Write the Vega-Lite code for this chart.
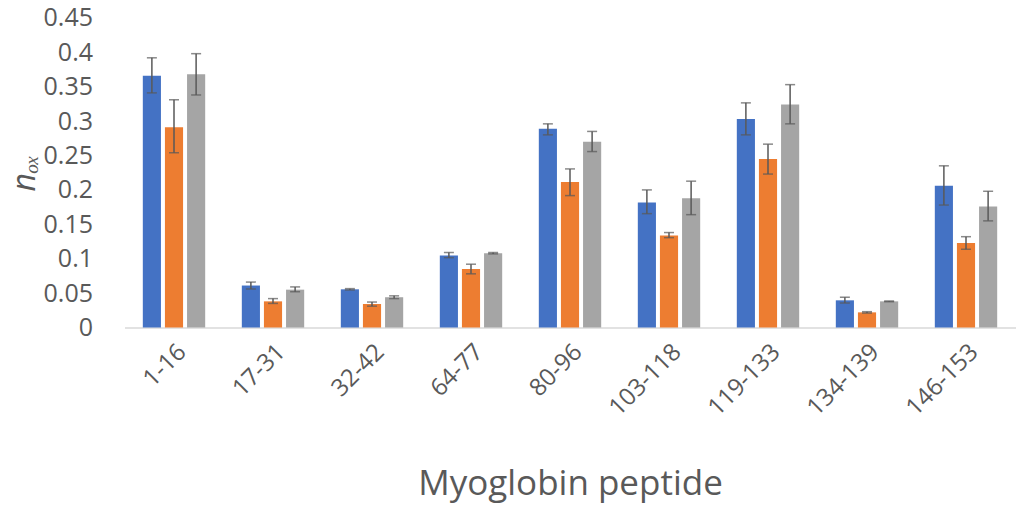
{
  "$schema": "https://vega.github.io/schema/vega-lite/v6.json",
  "width": 891,
  "height": 309.6,
  "autosize": {"type": "none"},
  "padding": {"left": 124.5, "top": 17.9, "right": 6.5, "bottom": 178.5},
  "background": "white",
  "config": {
    "view": {"stroke": null},
    "font": "Open Sans",
    "axisY": {
      "titleFontStyle": "italic",
      "titleFontWeight": "normal",
      "titleFontSize": 32,
      "titleColor": "#595959",
      "titlePadding": 2,
      "labelFontSize": 25,
      "labelColor": "#595959",
      "labelPadding": 32,
      "labelOverlap": false,
      "labelFlush": false,
      "ticks": false,
      "domain": false,
      "grid": false
    }
  },
  "data": {
    "values": [
      {"peptide": "1-16", "s": "A", "v": 0.366, "lo": 0.341, "hi": 0.392},
      {"peptide": "1-16", "s": "B", "v": 0.291, "lo": 0.254, "hi": 0.331},
      {"peptide": "1-16", "s": "C", "v": 0.368, "lo": 0.338, "hi": 0.398},
      {"peptide": "17-31", "s": "A", "v": 0.061, "lo": 0.056, "hi": 0.066},
      {"peptide": "17-31", "s": "B", "v": 0.038, "lo": 0.035, "hi": 0.042},
      {"peptide": "17-31", "s": "C", "v": 0.055, "lo": 0.052, "hi": 0.059},
      {"peptide": "32-42", "s": "A", "v": 0.0555, "lo": 0.0545, "hi": 0.0565},
      {"peptide": "32-42", "s": "B", "v": 0.034, "lo": 0.031, "hi": 0.037},
      {"peptide": "32-42", "s": "C", "v": 0.044, "lo": 0.042, "hi": 0.046},
      {"peptide": "64-77", "s": "A", "v": 0.1045, "lo": 0.1015, "hi": 0.109},
      {"peptide": "64-77", "s": "B", "v": 0.085, "lo": 0.078, "hi": 0.092},
      {"peptide": "64-77", "s": "C", "v": 0.108, "lo": 0.107, "hi": 0.109},
      {"peptide": "80-96", "s": "A", "v": 0.2887, "lo": 0.280, "hi": 0.296},
      {"peptide": "80-96", "s": "B", "v": 0.2116, "lo": 0.1917, "hi": 0.2305},
      {"peptide": "80-96", "s": "C", "v": 0.270, "lo": 0.2557, "hi": 0.285},
      {"peptide": "103-118", "s": "A", "v": 0.1816, "lo": 0.1655, "hi": 0.200},
      {"peptide": "103-118", "s": "B", "v": 0.1336, "lo": 0.1306, "hi": 0.138},
      {"peptide": "103-118", "s": "C", "v": 0.188, "lo": 0.164, "hi": 0.2127},
      {"peptide": "119-133", "s": "A", "v": 0.303, "lo": 0.280, "hi": 0.3265},
      {"peptide": "119-133", "s": "B", "v": 0.245, "lo": 0.223, "hi": 0.2665},
      {"peptide": "119-133", "s": "C", "v": 0.324, "lo": 0.296, "hi": 0.353},
      {"peptide": "134-139", "s": "A", "v": 0.0395, "lo": 0.0356, "hi": 0.044},
      {"peptide": "134-139", "s": "B", "v": 0.022, "lo": 0.021, "hi": 0.023},
      {"peptide": "134-139", "s": "C", "v": 0.038, "lo": 0.0375, "hi": 0.0385},
      {"peptide": "146-153", "s": "A", "v": 0.206, "lo": 0.178, "hi": 0.235},
      {"peptide": "146-153", "s": "B", "v": 0.123, "lo": 0.1137, "hi": 0.132},
      {"peptide": "146-153", "s": "C", "v": 0.176, "lo": 0.155, "hi": 0.198}
    ]
  },
  "encoding": {
    "x": {
      "field": "peptide",
      "type": "nominal",
      "sort": null,
      "scale": {"paddingInner": 0.37, "paddingOuter": 0.185},
      "axis": {
        "title": "Myoglobin peptide",
        "titleFont": "Open Sans",
        "titleFontSize": 35,
        "titleFontWeight": "normal",
        "titleColor": "#595959",
        "titlePadding": 46,
        "labelAngle": -45,
        "labelFontSize": 24,
        "labelColor": "#595959",
        "labelPadding": 12,
        "labelOverlap": false,
        "ticks": false,
        "domainColor": "#D9D9D9",
        "domainWidth": 1.5,
        "grid": false
      }
    },
    "xOffset": {
      "field": "s",
      "type": "nominal",
      "scale": {"paddingInner": 0.18, "paddingOuter": 0}
    }
  },
  "layer": [
    {
      "mark": {"type": "bar"},
      "encoding": {
        "y": {
          "field": "v",
          "type": "quantitative",
          "scale": {"domain": [0, 0.45], "nice": false},
          "axis": {
            "values": [0, 0.05, 0.1, 0.15, 0.2, 0.25, 0.3, 0.35, 0.4, 0.45],
            "format": ".2~f",
            "title": "nₒₓ"
          }
        },
        "color": {
          "field": "s",
          "type": "nominal",
          "scale": {"domain": ["A", "B", "C"], "range": ["#4472C4", "#ED7D31", "#A5A5A5"]},
          "legend": null
        }
      }
    },
    {
      "mark": {"type": "rule", "color": "#595959", "strokeWidth": 1.5},
      "encoding": {
        "y": {
          "field": "lo",
          "type": "quantitative",
          "axis": {
            "values": [0, 0.05, 0.1, 0.15, 0.2, 0.25, 0.3, 0.35, 0.4, 0.45],
            "format": ".2~f",
            "title": "nₒₓ"
          }
        },
        "y2": {"field": "hi"}
      }
    },
    {
      "mark": {"type": "tick", "color": "#595959", "thickness": 1.5, "size": 10},
      "encoding": {
        "y": {
          "field": "lo",
          "type": "quantitative",
          "axis": {
            "values": [0, 0.05, 0.1, 0.15, 0.2, 0.25, 0.3, 0.35, 0.4, 0.45],
            "format": ".2~f",
            "title": "nₒₓ"
          }
        }
      }
    },
    {
      "mark": {"type": "tick", "color": "#595959", "thickness": 1.5, "size": 10},
      "encoding": {
        "y": {
          "field": "hi",
          "type": "quantitative",
          "axis": {
            "values": [0, 0.05, 0.1, 0.15, 0.2, 0.25, 0.3, 0.35, 0.4, 0.45],
            "format": ".2~f",
            "title": "nₒₓ"
          }
        }
      }
    }
  ]
}
